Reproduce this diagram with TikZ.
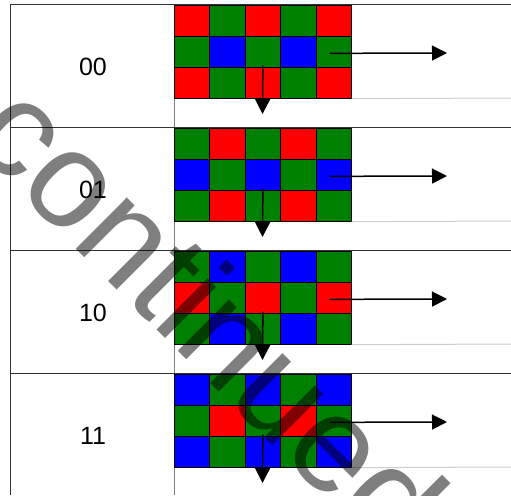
\documentclass[tikz,border=0pt]{standalone}
\usepackage{fontspec}
\setmainfont{Liberation Sans}
\usetikzlibrary{arrows.meta}
\definecolor{bayerred}{RGB}{255,0,0}
\definecolor{bayergreen}{RGB}{0,128,0}
\definecolor{bayerblue}{RGB}{0,0,255}
\definecolor{rulegray}{RGB}{51,51,51}
\definecolor{midgray}{RGB}{128,128,128}
\definecolor{fadegray}{RGB}{205,205,205}

\begin{document}
\begin{tikzpicture}[x=1pt, y=-1pt,
  cell/.style={rectangle, draw=black, line width=0.7pt, fill=#1, minimum width=35.4pt, minimum height=31pt, inner sep=0pt, anchor=north west},
  phase/.style={font=\fontsize{25}{25}\selectfont, inner sep=0pt},
  rule/.style={draw=rulegray, line width=1pt},
  divider/.style={draw=midgray, line width=1pt},
  rim/.style={draw=fadegray, line width=1pt},
  arrow/.style={-{Triangle[length=15pt, width=15pt]}, line width=1.5pt, black},
  watermark/.style={rotate=-45, anchor=base, inner sep=0pt, text=black, text opacity=0.5, font=\fontsize{137}{137}\selectfont},
]
  \useasboundingbox (0,0) rectangle (511,495);

  % table frame
  \draw[rule] (10.5,495) -- (10.5,5) -- (511,5);
  \draw[divider] (174,5) -- (174,495);
  \foreach \ri in {1,2,3}
    \draw[rule] (10.5,4.5+123*\ri) -- (511,4.5+123*\ri);

  % one Bayer phase per row
  \foreach \lbl/\ca/\cb/\cc/\cd [count=\ri from 0] in {
      00/bayerred/bayergreen/bayergreen/bayerblue,
      01/bayergreen/bayerred/bayerblue/bayergreen,
      10/bayergreen/bayerblue/bayerred/bayergreen,
      11/bayerblue/bayergreen/bayergreen/bayerred}{
    \pgfmathsetmacro{\rowtop}{5+123*\ri}
    \node[phase] (lbl\ri) at (93,\rowtop+62) {\lbl};
    \foreach \j in {0,2,4}{
      \node[cell=\ca] (c\ri-0-\j) at (174+35.4*\j,\rowtop) {};
      \node[cell=\cc] (c\ri-1-\j) at (174+35.4*\j,\rowtop+31) {};
      \node[cell=\ca] (c\ri-2-\j) at (174+35.4*\j,\rowtop+62) {};
    }
    \foreach \j in {1,3}{
      \node[cell=\cb] (c\ri-0-\j) at (174+35.4*\j,\rowtop) {};
      \node[cell=\cd] (c\ri-1-\j) at (174+35.4*\j,\rowtop+31) {};
      \node[cell=\cb] (c\ri-2-\j) at (174+35.4*\j,\rowtop+62) {};
    }
    \coordinate (rim\ri) at (511,\rowtop+93);
    \draw[rim] (c\ri-2-4.south east) -- (rim\ri);

    % shift arrows
    \coordinate (east\ri) at (447,\rowtop+48);
    \coordinate (south\ri) at (262.5,\rowtop+109);
    \draw[arrow] ([xshift=-4pt,yshift=-1.5pt]c\ri-1-4.center) -- (east\ri);
    \draw[arrow] ([yshift=2pt]c\ri-1-2.south) -- (south\ri);
  }

  \node[watermark] (stamp) at (177,350) {continued};
\end{tikzpicture}
\end{document}
